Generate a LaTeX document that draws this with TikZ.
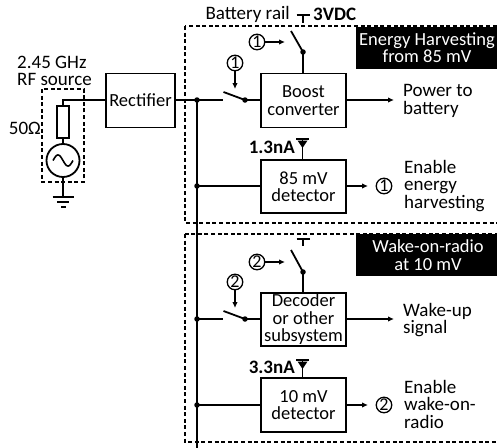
\documentclass[tikz,border=0pt]{standalone}
\usepackage{fontspec}
\setmainfont{Carlito}
\usetikzlibrary{arrows.meta}
\begin{document}
\begin{tikzpicture}[x=1pt,y=-1pt,
  wire/.style={line width=1.8pt},
  dbox/.style={line width=1.4pt, dash pattern=on 4pt off 2.6pt},
  blk/.style={draw, line width=1.8pt, inner sep=0pt, minimum width=85pt, minimum height=54pt, align=center, font=\fontsize{18.5}{17.5}\selectfont},
  lbl/.style={inner sep=0pt, align=left, font=\fontsize{19}{17.5}\selectfont},
  bold/.style={inner sep=0pt, font=\fontsize{19}{17}\selectfont\bfseries},
  num/.style={circle, draw, line width=1.3pt, minimum size=15.5pt, inner sep=0pt, font=\fontsize{18}{18}\selectfont},
  arr/.style={wire, -{Latex[length=6pt,width=5.5pt]}},
  dot/.style={circle, fill, inner sep=0pt, minimum size=5.5pt},
  banner/.style={inner sep=0pt, align=center, text=white, font=\fontsize{18.5}{17.5}\selectfont}
]
\useasboundingbox (0,0) rectangle (497,447);
\clip (0,0) rectangle (497,447);

% dashed group boxes
\draw[dbox] (185,26) rectangle (520,223);
\draw[dbox] (185,234) rectangle (520,442);
\fill[black] (356,27) rectangle (520,69);
\fill[black] (356,234) rectangle (520,276);
\node[banner] (ban1) at (427,47.5) {Energy Harvesting\\from 85 mV};
\node[banner] (ban2) at (428,255) {Wake-on-radio\\at 10 mV};

% source
\draw[dbox] (42,89) rectangle (84,182);
\node[lbl, anchor=west] (srclbl) at (17,71) {2.45 GHz\\RF source};
\node[lbl, anchor=east] (ohm) at (41,128) {50Ω};
\node[draw, line width=1.8pt, minimum width=12pt, minimum height=32pt, inner sep=0pt] (res) at (63,122) {};
\node[draw, circle, line width=1.8pt, minimum size=33pt, inner sep=0pt] (ac) at (63,160.5) {};
\draw[line width=1.6pt] plot[domain=0:1, samples=40] ({53+20*\x},{160.5-5.5*sin(360*\x)});
\coordinate (gnd) at (63,197);
\draw[wire] (res.south) -- (ac.north);
\draw[wire] (ac.south) -- (gnd);
\draw[wire] (52.5,197) -- (74,197);
\draw[wire] (57,202) -- (69,202);
\draw[wire] (61,207) -- (65.5,207);

% rectifier
\node[blk, minimum width=69pt] (rect) at (140.5,100.5) {Rectifier};
\coordinate (rtop) at (63,100);
\draw[wire] (res.north) -- (rtop) -- (rect.west |- rtop);

% bus
\coordinate (j1) at (197,100);
\coordinate (j2) at (197,186);
\coordinate (j3) at (197,319);
\coordinate (j4) at (197,405);
\coordinate (busend) at (197,450);
\draw[wire] (rect.east |- j1) -- (j1);
\draw[wire] (j1) -- (busend);
\foreach \j in {j1,j2,j3,j4} \node[dot] at (\j) {};

% ===== Energy harvesting =====
\node[blk] (boost) at (303.5,100.5) {Boost\\converter};
\node[blk, minimum height=53pt] (det1) at (303.5,186.5) {85 mV\\detector};
% horizontal switch 1
\coordinate (s1a) at (223,100);
\node[dot] (s1p) at (245,100) {};
\draw[wire] (j1) -- (s1a);
\draw[wire] (s1p.center) -- (223.5,92);
\draw[wire] (s1p.center) -- (boost.west |- s1p);
\node[num] (c1a) at (235,63) {1};
\draw[arr] (c1a.south) -- (235,89);
% vertical switch (battery rail)
\node[dot] (v1p) at (303,52) {};
\draw[wire] (v1p.center) -- (boost.north -| v1p);
\draw[wire] (v1p.center) -- (291,31);
\coordinate (t1) at (303,15);
\draw[wire] (296.5,15) -- (309.5,15);
\draw[wire] (t1) -- (303,23);
\node[num] (c1b) at (257,42) {1};
\draw[arr] (c1b.east) -- (285,42);
\node[lbl, anchor=east] (rail) at (290,14) {Battery rail};
\node[bold, anchor=west] (vdc) at (313,14) {3VDC};
% outputs
\draw[arr] (boost.east |- s1p) -- (394,100);
\node[lbl, anchor=west] (pwr) at (403,101) {Power to\\battery};
% current source 1
\coordinate (cs1) at (302.5,139);
\draw[wire] (296,139) -- (309,139);
\draw[wire] (cs1) -- (det1.north -| cs1);
\fill (297.5,140.5) -- (307.5,140.5) -- (302.5,148) -- cycle;
\node[bold, anchor=east] (i1) at (295,147) {1.3nA};
\draw[wire] (j2) -- (det1.west |- j2);
\draw[arr] (det1.east |- j2) -- (368,186);
\node[num] (c1c) at (384,186) {1};
\node[lbl, anchor=west] (en1) at (404,186) {Enable\\energy\\harvesting};

% ===== Wake-on-radio =====
\node[blk, minimum height=53pt] (dec) at (303.5,319.5) {Decoder\\or other\\subsystem};
\node[blk] (det2) at (303.5,405) {10 mV\\detector};
\coordinate (s2a) at (223,319);
\node[dot] (s2p) at (245,319) {};
\draw[wire] (j3) -- (s2a);
\draw[wire] (s2p.center) -- (223.5,311);
\draw[wire] (s2p.center) -- (dec.west |- s2p);
\node[num] (c2a) at (235,282) {2};
\draw[arr] (c2a.south) -- (235,308);
\node[dot] (v2p) at (303,272) {};
\draw[wire] (v2p.center) -- (dec.north -| v2p);
\draw[wire] (v2p.center) -- (291,250);
\draw[wire] (296.5,239) -- (309.5,239);
\draw[wire] (303,239) -- (303,246);
\node[num] (c2b) at (257,262) {2};
\draw[arr] (c2b.east) -- (285,262);
\draw[arr] (dec.east |- s2p) -- (394,319);
\node[lbl, anchor=west] (wake) at (403,320) {Wake-up\\signal};
% current source 2
\coordinate (cs2) at (302.5,360);
\draw[wire] (296,360) -- (309,360);
\draw[wire] (cs2) -- (det2.north -| cs2);
\fill (297.5,361.5) -- (307.5,361.5) -- (302.5,369) -- cycle;
\node[bold, anchor=east] (i2) at (295,367) {3.3nA};
\draw[wire] (j4) -- (det2.west |- j4);
\draw[arr] (det2.east |- j4) -- (368,405);
\node[num] (c2c) at (384,405) {2};
\node[lbl, anchor=west] (en2) at (404,404) {Enable\\wake-on-\\radio};
\end{tikzpicture}
\end{document}
